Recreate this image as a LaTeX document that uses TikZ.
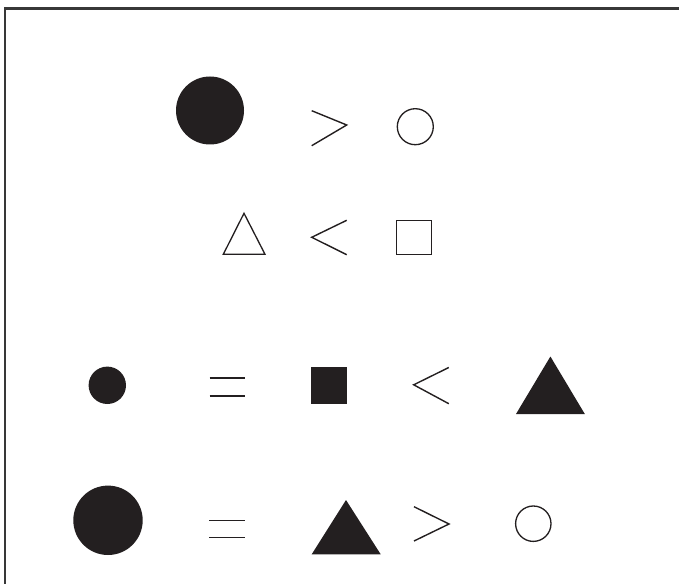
\documentclass[tikz,border=0pt]{standalone}
\usetikzlibrary{calc}
\definecolor{GlyphInk}{HTML}{231F20}
\definecolor{GlyphFrame}{gray}{0.22}
\tikzset{
    glyph/diagram/.style={
        x=0.02cm, y=-0.02cm,
        line cap=butt,
        line join=miter
    },
    glyph/frame/.style={draw=GlyphFrame, line width=1.3pt},
    glyph/solid/.style={fill=GlyphInk, draw=none},
    glyph/outline/.style={draw=GlyphInk, line width=0.75pt},
    glyph/relation/.style={draw=GlyphInk, line width=0.8pt}
}
\begin{document}
\begin{tikzpicture}[glyph/diagram]
    \useasboundingbox (0,0) rectangle (679,584);
    \draw[glyph/frame] (679,8.5) -- (5,8.5) -- (5,584);
    % big disc > small ring
    \fill[glyph/solid] (210,110.5) circle (34);
    \draw[glyph/relation] (311.7,110.7) -- (346.7,125) -- (311.7,145.7);
    \draw[glyph/outline] (415.3,126.7) circle (18);
    % open triangle < open square
    \draw[glyph/outline] (244,213.3) -- (265,254.3) -- (223.3,254.3) -- cycle;
    \draw[glyph/relation] (346.7,220.3) -- (311.7,237.3) -- (346.7,254.7);
    \draw[glyph/outline] (396.7,220.3) rectangle (431.7,254.3);
    % small disc = square < triangle
    \fill[glyph/solid] (107.3,385.3) circle (18.7);
    \draw[glyph/relation] (209.5,378.2) -- (244.6,378.2)
        (209.5,395.8) -- (244.6,395.8);
    \fill[glyph/solid] (311,366.9) rectangle (346.5,404);
    \draw[glyph/relation] (448.8,367.5) -- (413.7,384.8) -- (448.8,403.7);
    \fill[glyph/solid] (550.4,356.5) -- (584.8,414) -- (516,414) -- cycle;
    % big disc = triangle > small ring
    \fill[glyph/solid] (108,520.3) circle (34.7);
    \draw[glyph/relation] (209.3,520.7) -- (245,520.7)
        (209.3,537.7) -- (245,537.7);
    \fill[glyph/solid] (346,500) -- (380.7,554.3) -- (311.7,554.3) -- cycle;
    \draw[glyph/relation] (414,506.7) -- (449,524) -- (414,541);
    \draw[glyph/outline] (533.3,523.7) circle (17.7);
\end{tikzpicture}
\end{document}
